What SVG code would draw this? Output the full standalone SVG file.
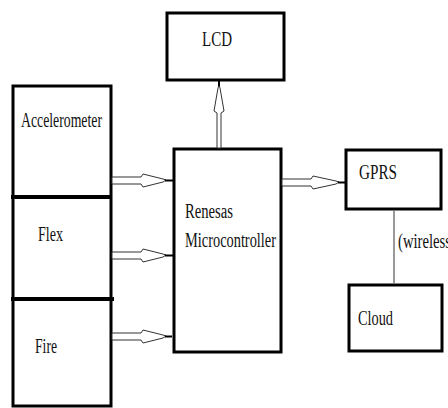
<svg xmlns="http://www.w3.org/2000/svg" width="448" height="408" viewBox="0 0 448 408">
<style>
.box{fill:#fff;stroke:#000;stroke-width:3}
.div{stroke:#000;stroke-width:4}
.lbl{font-family:"Liberation Serif","Times New Roman",serif;font-size:20px;fill:#111}
.arr{fill:#fff;stroke:#333;stroke-width:1}
.stub{stroke:#000;stroke-width:2}
.wire{stroke:#777;stroke-width:1.5}
</style>
<rect width="448" height="408" fill="#fff"/>
<g id="sensors">
<rect class="box" x="13" y="86" width="98" height="320"/>
</g>
<g id="accelerometer">
<line class="div" x1="11" y1="197" x2="112" y2="197"/>
<text class="lbl" x="21" y="127" textLength="81" lengthAdjust="spacingAndGlyphs">Accelerometer</text>
</g>
<g id="flex">
<line class="div" x1="11" y1="299" x2="114" y2="299"/>
<text class="lbl" x="38" y="241" textLength="25" lengthAdjust="spacingAndGlyphs">Flex</text>
</g>
<g id="fire">
<text class="lbl" x="35" y="353" textLength="22" lengthAdjust="spacingAndGlyphs">Fire</text>
</g>
<g id="lcd">
<rect class="box" x="167" y="13" width="117" height="67"/>
<text class="lbl" x="202" y="46" textLength="30" lengthAdjust="spacingAndGlyphs">LCD</text>
</g>
<g id="microcontroller">
<rect class="box" x="174" y="149" width="107" height="203"/>
<text class="lbl" x="185" y="218" textLength="48" lengthAdjust="spacingAndGlyphs">Renesas</text>
<text class="lbl" x="185" y="247" textLength="91" lengthAdjust="spacingAndGlyphs">Microcontroller</text>
</g>
<g id="gprs">
<rect class="box" x="346" y="150" width="95" height="59"/>
<text class="lbl" x="359" y="179" textLength="38" lengthAdjust="spacingAndGlyphs">GPRS</text>
</g>
<g id="cloud">
<rect class="box" x="349" y="285" width="93" height="66"/>
<text class="lbl" x="358" y="325" textLength="35" lengthAdjust="spacingAndGlyphs">Cloud</text>
</g>
<g id="connectors">
<path class="arr" d="M112,177 H141 L143,174 L163,179 L166,180 L163,182 L143,187 L141,184 H112 Z"/>
<line class="stub" x1="165" y1="180.5" x2="173" y2="180.5"/>
<path class="arr" d="M112,252 H141 L143,249 L163,254 L166,255 L163,257 L143,262 L141,259 H112 Z"/>
<line class="stub" x1="165" y1="255.5" x2="173" y2="255.5"/>
<path class="arr" d="M112,333 H141 L143,330 L163,335 L166,336 L163,338 L143,343 L141,340 H112 Z"/>
<line class="stub" x1="165" y1="336.5" x2="172" y2="336.5"/>
<path class="arr" d="M282,179 H311 L313,176 L336,181 L339,182 L336,184 L313,189 L311,186 H282 Z"/>
<line class="stub" x1="338" y1="182.5" x2="346" y2="182.5"/>
<path class="arr" d="M217,148 V113 L214,111 L218,88 L219,85 L220,88 L224,111 L221,113 V148 Z"/>
<line class="stub" x1="219" y1="86" x2="219" y2="81"/>
<line class="wire" x1="394" y1="210" x2="394" y2="284"/>
<text class="lbl" x="398" y="248" textLength="53" lengthAdjust="spacingAndGlyphs">(wireless</text>
</g>
</svg>
